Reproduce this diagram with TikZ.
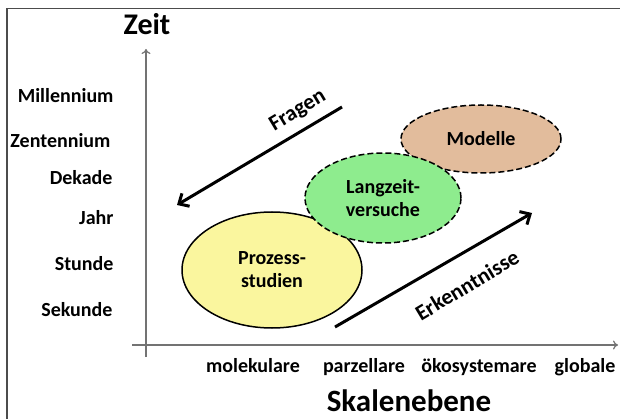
\documentclass[tikz,border=0pt]{standalone}
\usepackage{fontspec}
\setmainfont{Carlito}
\usetikzlibrary{shapes.geometric, arrows.meta, positioning}

\definecolor{prozessgelb}{RGB}{250,246,158}
\definecolor{versuchgruen}{RGB}{142,236,142}
\definecolor{modellbraun}{RGB}{226,188,156}

\begin{document}
\begin{tikzpicture}[
  x=1pt, y=-1pt,
  font=\fontsize{20}{23}\selectfont\bfseries,
  axis/.style={draw=black!55, line width=1.2pt, -{To[length=5pt,width=9pt]}},
  zone/.style={ellipse, draw, line width=1.5pt, align=center, inner sep=0pt},
  dashedzone/.style={zone, dash pattern=on 6pt off 3pt},
  flow/.style={line width=3pt, -{Straight Barb[length=8pt,width=15pt]}},
  flowlabel/.style={rotate=31, font=\fontsize{22}{26}\selectfont\bfseries},
  tick/.style={anchor=base east},
  scalelabel/.style={anchor=base}
]
\useasboundingbox (0,0) rectangle (620,419);
\draw[black!70, line width=1.5pt] (7,419) -- (7,8.5) -- (620,8.5);

% Achsen
\coordinate (ybottom) at (146,357);
\coordinate (ytop) at (146,49);
\coordinate (xleft) at (132,345);
\coordinate (xright) at (618,345);
\draw[axis] (ybottom) -- (ytop);
\draw[axis] (xleft) -- (xright);

\node[anchor=base, font=\fontsize{30}{34}\selectfont\bfseries] (zeit) at (147,35) {Zeit};
\node[anchor=base, font=\fontsize{31}{35}\selectfont\bfseries] (skalen) at (409,411) {Skalenebene};

% Zeitskala
\node[tick] (mill) at (117,103) {Millennium};
\node[tick] (zent) at (114,148) {Zentennium};
\node[tick] (dek) at (116,185) {Dekade};
\node[tick] (jahr) at (117,225) {Jahr};
\node[tick] (std) at (117,270) {Stunde};
\node[tick] (sek) at (116,316) {Sekunde};

% Raumskala
\node[scalelabel] (mol) at (253,372) {molekulare};
\node[scalelabel] (parz) at (364,372) {parzellare};
\node[scalelabel] (oeko) at (479,372) {ökosystemare};
\node[scalelabel] (glob) at (585,372) {globale};

% Ellipsen
\node[zone, fill=prozessgelb, minimum width=180pt, minimum height=116pt] (prozess) at (272,270) {Prozess-\\studien};
\node[dashedzone, fill=modellbraun, minimum width=160pt, minimum height=68pt] (modell) at (481,139) {Modelle};
\node[dashedzone, fill=versuchgruen, minimum width=156pt, minimum height=90pt] (langzeit) at (383,198) {Langzeit-\\versuche};

% Pfeile
\coordinate (fragenstart) at (342,107);
\coordinate (fragenend) at (177,205);
\coordinate (erkstart) at (335,327);
\coordinate (erkend) at (532,213);
\draw[flow] (fragenstart) -- (fragenend);
\draw[flow] (erkstart) -- (erkend);
\node[flowlabel] (fragen) at (298,111) {Fragen};
\node[flowlabel] (erkenntnisse) at (467,285) {Erkenntnisse};

\end{tikzpicture}
\end{document}
